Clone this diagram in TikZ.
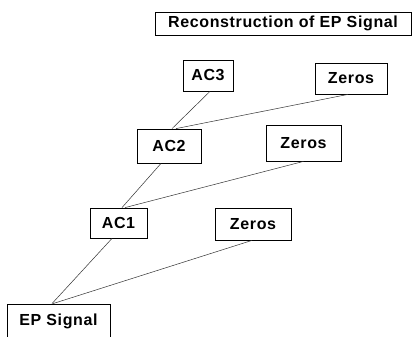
\documentclass[tikz,border=0pt]{standalone}
\usepackage{fontspec}
\setmainfont{Liberation Sans}[LetterSpace=4]
\begin{document}
\begin{tikzpicture}[x=1pt,y=-1pt,
  lbl/.style={draw=black,line width=0.8pt,rectangle,inner sep=0pt,
    font=\fontsize{16}{16}\selectfont\bfseries,text=black},
  conn/.style={draw=black!80,line width=0.5pt}]
\clip (0,0) rectangle (412,337);
\fill[white] (0,0) rectangle (412,337);
\node[lbl,minimum width=256pt,minimum height=23pt] (title) at (283,23.5) {Reconstruction of EP Signal};
\node[lbl,minimum width=50pt,minimum height=31pt] (ac3) at (208,75.5) {AC3};
\node[lbl,minimum width=72pt,minimum height=31pt] (z3) at (351,78.5) {Zeros};
\node[lbl,minimum width=64pt,minimum height=34pt] (ac2) at (169,146) {AC2};
\node[lbl,minimum width=75pt,minimum height=36pt] (z2) at (303.5,143) {Zeros};
\node[lbl,minimum width=57pt,minimum height=30pt] (ac1) at (118.5,223) {AC1};
\node[lbl,minimum width=76pt,minimum height=32pt] (z1) at (253,224) {Zeros};
\node[lbl,minimum width=103pt,minimum height=34pt] (ep) at (58.5,321) {EP Signal};
\draw[conn] ([xshift=2pt]ac3.south) -- ([xshift=3pt]ac2.north);
\draw[conn] ([xshift=-3pt]z3.south) -- ([xshift=7pt]ac2.north);
\draw[conn] ([xshift=-8pt]ac2.south) -- ([xshift=3.5pt]ac1.north);
\draw[conn] (z2.south) -- ([xshift=6.5pt]ac1.north);
\draw[conn] ([xshift=-6.5pt]ac1.south) -- ([xshift=-6.5pt]ep.north);
\draw[conn] ([xshift=-1pt]z1.south) -- ([xshift=-5.5pt]ep.north);
\end{tikzpicture}
\end{document}
